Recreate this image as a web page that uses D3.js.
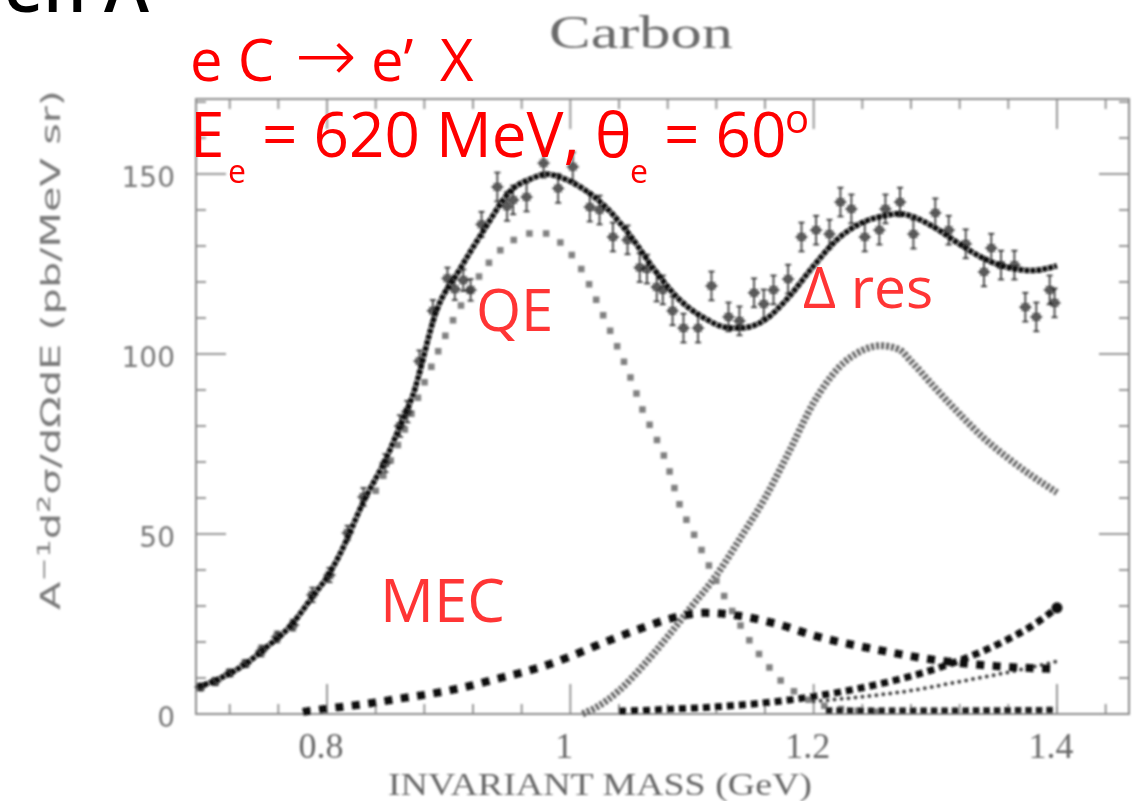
<!DOCTYPE html>
<html>
<head>
<meta charset="utf-8">
<script src="https://cdn.jsdelivr.net/npm/d3@7"></script>
<style>
  html, body { margin: 0; padding: 0; background: #fff; }
  svg { display: block; }
</style>
</head>
<body>
<script>
// ---- Carbon (e,e') inclusive spectrum: data and model components ----
// measured points: [invariant mass (GeV), cross section, error]
const dataPoints = [
  [0.696,7.5,1],[0.708,9,1],[0.720,11.4,1],[0.733,14,1],[0.746,17.5,1.5],[0.759,21.4,1.5],
  [0.772,24.7,1.5],[0.788,33.1,2],[0.802,38.6,2],[0.817,50.3,2],[0.830,60.3,2.5],[0.848,69.7,2.5],
  [0.860,80,3],[0.866,84,3],[0.876,98,3],[0.887,112,3],[0.899,121,3],[0.905,118,3],[0.912,120.5,3],
  [0.918,117.8,3],[0.927,136,3.5],[0.940,146.4,4],[0.948,141,4],[0.953,142.8,4],[0.964,143.6,4],
  [0.978,153,4],[0.990,146,4],[1.002,152,4],[1.016,140.8,4],[1.024,140,4],[1.035,132.5,4],
  [1.047,131.7,4],[1.057,124,4],[1.063,123.6,4],[1.071,118.6,4],[1.076,117.8,4],[1.084,112,4],
  [1.093,107.2,4],[1.105,107.2,4],[1.116,118.9,4],[1.130,110.3,4],[1.139,109.2,4],[1.151,117,4],
  [1.159,113.9,4],[1.167,117.8,4],[1.179,120.8,4],[1.190,132.5,4],[1.202,134.4,4],[1.213,133.3,4],
  [1.222,142.2,4],[1.231,140.3,4],[1.242,132.5,4],[1.254,134.4,4],[1.259,140.3,4],[1.271,142.2,4],
  [1.282,133.3,4],[1.300,139.2,4],[1.311,134.4,4],[1.325,130.6,4],[1.340,122.8,4],[1.346,129.4,4],
  [1.354,124.7,4],[1.365,124.7,4],[1.374,113,4],[1.383,110.3,4],[1.394,117.8,4],[1.398,114.2,4]
];

// total model
const totalW = [0.694,0.71,0.73,0.75,0.77,0.79,0.80,0.81,0.83,0.85,0.86,0.87,0.89,0.91,0.93,0.95,0.97,0.98,0.99,
  1.01,1.03,1.05,1.07,1.09,1.11,1.13,1.14,1.16,1.18,1.20,1.22,1.24,1.26,1.27,1.28,1.30,1.32,1.34,1.36,1.38,1.40];
const totalV = [7.5,9.6,13.2,18.5,24.5,33.5,38,44,59,72,80,88,112,124,135,145,149,150,149.3,
  146,140.5,132.5,123,115,110,107.3,107.2,109.5,116,124.5,132,136.5,138.5,139,138.3,135,130.5,126.5,124,123.2,124.5];

// quasi-elastic
const qeW = [0.84,0.86,0.88,0.90,0.92,0.94,0.96,0.975,0.99,1.00,1.01,1.02,1.03,1.04,1.05,1.06,1.07,1.08,
  1.09,1.10,1.11,1.12,1.13,1.14,1.15,1.16,1.17,1.18,1.19,1.20,1.22,1.24,1.26];
const qeV = [62,76,92,107,119,128,132.8,133.8,131.5,128,123,116,108.5,101,93,84,77,69,
  58,51,44,37,30.5,24.5,19,14.5,10.3,7.3,5,3.3,1.5,0.8,0.5];

// Delta resonance
const deltaW = [1.01,1.02,1.04,1.06,1.08,1.10,1.12,1.14,1.16,1.18,1.20,1.22,1.24,1.255,1.27,1.28,1.30,1.32,1.34,1.36,1.38,1.40];
const deltaV = [0,1.6,6.5,13.5,21.5,30,38.5,49,60,73,86.5,96,101,102.3,101.3,98,90.5,83.3,76.6,71,66,61.5];

// meson exchange currents
const mecW = [0.78,0.80,0.82,0.84,0.86,0.88,0.90,0.92,0.94,0.96,0.98,1.00,1.02,1.04,1.06,1.08,1.10,1.11,1.12,
  1.14,1.17,1.20,1.25,1.30,1.35,1.40];
const mecV = [0.6,1.5,2.3,3.2,4.3,5.3,6.5,8.0,9.8,11.5,13.5,16.0,18.8,21.5,24.0,26.3,27.8,28.1,28.0,
  27.2,25.0,21.8,18.0,15.0,13.3,12.5];

// non-resonant pion background
const bgW = [1.04,1.06,1.08,1.10,1.12,1.14,1.16,1.18,1.20,1.22,1.24,1.26,1.28,1.30,1.32,1.34,1.36,1.38,1.40];
const bgV = [0.8,1.0,1.3,1.6,2.0,2.5,3.1,3.9,4.9,6.0,7.3,8.8,10.5,12.5,14.9,17.6,20.8,24.6,29.5];

// small flat component
const lowW = [1.21,1.25,1.30,1.35,1.40];
const lowV = [1.0,0.9,0.9,1.0,1.1];

// dotted component
const dotW = [1.20,1.24,1.28,1.32,1.36,1.40];
const dotV = [3.5,4.8,6.5,9.0,11.6,14.6];

const xMajor = [0.8, 1.0, 1.2, 1.4];
const xMajorLabels = ["0.8", "1", "1.2", "1.4"];
const xMinor = [0.72,0.76,0.84,0.88,0.92,0.96,1.04,1.08,1.12,1.16,1.24,1.28,1.32,1.36,1.44];
const yMajor = [0, 50, 100, 150];
const yMajorLabels = ["0", "50", "100", "150"];
const yMinor = [10,20,30,40,60,70,80,90,110,120,130,140,160,170];

// ---- layout ----
const W = 1139, H = 801;
const frame = { left: 196, right: 1129, top: 99, bottom: 714 };

const svg = d3.select("body").append("svg").attr("width", W).attr("height", H);

const defs = svg.append("defs");
defs.append("filter").attr("id", "soft")
  .append("feGaussianBlur").attr("stdDeviation", 0.8);

const x = d3.scaleLinear().domain([0.6923, 1.4592]).range([frame.left, frame.right]);
const y = d3.scaleLinear().domain([0, 170.83]).range([frame.bottom, frame.top]);

const plot = svg.append("g").attr("filter", "url(#soft)");

// frame
plot.append("rect")
  .attr("x", frame.left).attr("y", frame.top)
  .attr("width", frame.right - frame.left).attr("height", frame.bottom - frame.top)
  .attr("fill", "none").attr("stroke", "#8c8c8c").attr("stroke-width", 2);

// inward ticks on all four sides
const tickG = plot.append("g").attr("stroke", "#8c8c8c").attr("stroke-width", 1.8);
function vTicks(vals, len) {
  vals.forEach(v => {
    tickG.append("line").attr("x1", x(v)).attr("x2", x(v)).attr("y1", frame.bottom).attr("y2", frame.bottom - len);
    tickG.append("line").attr("x1", x(v)).attr("x2", x(v)).attr("y1", frame.top).attr("y2", frame.top + len);
  });
}
function hTicks(vals, len) {
  vals.forEach(v => {
    tickG.append("line").attr("y1", y(v)).attr("y2", y(v)).attr("x1", frame.left).attr("x2", frame.left + len);
    tickG.append("line").attr("y1", y(v)).attr("y2", y(v)).attr("x1", frame.right).attr("x2", frame.right - len);
  });
}
vTicks(xMajor, 30); vTicks(xMinor, 10);
hTicks(yMajor, 30); hTicks(yMinor, 10);

// tick labels
plot.append("g").selectAll("text").data(xMajor).join("text")
  .attr("x", (d) => x(d) - 6).attr("y", 758)
  .attr("text-anchor", "middle")
  .attr("font-family", "Liberation Serif, serif").attr("font-size", 36)
  .attr("fill", "#666")
  .text((d, i) => xMajorLabels[i]);

plot.append("g").selectAll("text").data(yMajor).join("text")
  .attr("x", 175).attr("y", (d) => y(d) + 13)
  .attr("text-anchor", "end")
  .attr("font-family", "DejaVu Sans, sans-serif").attr("font-size", 28)
  .attr("fill", "#777")
  .text((d, i) => yMajorLabels[i]);

// axis titles
plot.append("text")
  .attr("x", 388).attr("y", 795)
  .attr("font-family", "Liberation Serif, serif").attr("font-size", 31)
  .attr("fill", "#666")
  .attr("textLength", 424).attr("lengthAdjust", "spacingAndGlyphs")
  .text("INVARIANT MASS (GeV)");

const yTitle = plot.append("text")
  .attr("transform", "translate(60,610) rotate(-90)")
  .attr("font-family", "DejaVu Sans, sans-serif").attr("font-size", 26)
  .attr("fill", "#7a7a7a")
  .attr("textLength", 520).attr("lengthAdjust", "spacingAndGlyphs");
yTitle.append("tspan").text("A");
yTitle.append("tspan").attr("dy", -10).attr("font-size", 18).text("−1");
yTitle.append("tspan").attr("dy", 10).text("d");
yTitle.append("tspan").attr("dy", -10).attr("font-size", 18).text("2");
yTitle.append("tspan").attr("dy", 10).text("σ/dΩdE  (pb/MeV sr)");

plot.append("text")
  .attr("x", 549).attr("y", 48)
  .attr("font-family", "Liberation Serif, serif").attr("font-size", 46)
  .attr("fill", "#6a6a6a")
  .attr("textLength", 184).attr("lengthAdjust", "spacingAndGlyphs")
  .text("Carbon");

// ---- curves ----
const toPts = (ws, vs) => ws.map((w, i) => [w, vs[i]]);
const line = d3.line().x(d => x(d[0])).y(d => y(d[1])).curve(d3.curveMonotoneX);

// Delta resonance: dense grey squares
plot.append("path").datum(toPts(deltaW, deltaV))
  .attr("d", line).attr("fill", "none")
  .attr("stroke", "#666").attr("stroke-width", 7)
  .attr("stroke-dasharray", "3,2");

// quasi-elastic: spaced grey dots
plot.append("path").datum(toPts(qeW, qeV))
  .attr("d", line).attr("fill", "none")
  .attr("stroke", "#808080").attr("stroke-width", 6.5)
  .attr("stroke-linecap", "square").attr("stroke-dasharray", "0,17");

// dotted component
plot.append("path").datum(toPts(dotW, dotV))
  .attr("d", line).attr("fill", "none")
  .attr("stroke", "#444").attr("stroke-width", 4)
  .attr("stroke-linecap", "round").attr("stroke-dasharray", "0,7");

// flat low component
plot.append("path").datum(toPts(lowW, lowV))
  .attr("d", line).attr("fill", "none")
  .attr("stroke", "#1a1a1a").attr("stroke-width", 6.5)
  .attr("stroke-dasharray", "6.5,4");

// pion background: black squares
plot.append("path").datum(toPts(bgW, bgV))
  .attr("d", line).attr("fill", "none")
  .attr("stroke", "#111").attr("stroke-width", 7)
  .attr("stroke-dasharray", "7,5");
plot.append("circle")
  .attr("cx", x(bgW[bgW.length - 1])).attr("cy", y(bgV[bgV.length - 1]))
  .attr("r", 5.5).attr("fill", "#111");

// MEC: spaced black squares
plot.append("path").datum(toPts(mecW, mecV))
  .attr("d", line).attr("fill", "none")
  .attr("stroke", "#111").attr("stroke-width", 8)
  .attr("stroke-dasharray", "8,8.5");

// measured points with error bars
const dataG = plot.append("g").attr("stroke", "#333").attr("stroke-width", 1.7).attr("fill", "none");
dataPoints.forEach(([w, v, e]) => {
  const cx = x(w), cy = y(v), y0 = y(v - e), y1 = y(v + e);
  dataG.append("line").attr("x1", cx).attr("x2", cx).attr("y1", y0).attr("y2", y1);
  dataG.append("line").attr("x1", cx - 3).attr("x2", cx + 3).attr("y1", y0).attr("y2", y0);
  dataG.append("line").attr("x1", cx - 3).attr("x2", cx + 3).attr("y1", y1).attr("y2", y1);
  dataG.append("line").attr("x1", cx - 6).attr("x2", cx + 6).attr("y1", cy).attr("y2", cy);
  dataG.append("rect").attr("x", cx - 3).attr("y", cy - 3).attr("width", 6).attr("height", 6)
    .attr("stroke", "#222").attr("stroke-opacity", 0.85);
});

// total: thick black curve
plot.append("path").datum(toPts(totalW, totalV))
  .attr("d", line).attr("fill", "none")
  .attr("stroke", "#0d0d0d").attr("stroke-width", 5.5)
  .attr("stroke-dasharray", "5,1");

// ---- red annotations ----
const red = "#ff0000", red2 = "#ff3535";
const sans = "Open Sans, Noto Sans, sans-serif";

svg.append("text").attr("x", 4).attr("y", 12)
  .attr("font-family", sans).attr("font-weight", 600).attr("font-size", 68).attr("fill", "#000")
  .text("en A");

const l1 = svg.append("text").attr("y", 81).attr("font-family", sans).attr("font-size", 58).attr("fill", red);
l1.append("tspan").attr("x", 190).text("e C");
l1.append("tspan").attr("x", 295).attr("font-family", "DejaVu Sans, sans-serif").attr("font-size", 74)
  .attr("font-weight", 300).text("→");
l1.append("tspan").attr("x", 371).attr("font-family", sans).attr("font-size", 58).text("e’");
l1.append("tspan").attr("x", 440).text("X");

const l2 = svg.append("text").attr("y", 157).attr("font-family", sans).attr("font-size", 62).attr("fill", red);
l2.append("tspan").attr("x", 190).text("E");
l2.append("tspan").attr("x", 228).attr("y", 183).attr("font-size", 32).text("e");
l2.append("tspan").attr("x", 262).attr("y", 157).text("= 620 MeV,");
l2.append("tspan").attr("x", 595).text("θ");
l2.append("tspan").attr("x", 630).attr("y", 183).attr("font-size", 32).text("e");
l2.append("tspan").attr("x", 664).attr("y", 157).text("= 60");
l2.append("tspan").attr("x", 785).attr("y", 133).attr("font-size", 40).text("o");

svg.append("text").attr("x", 476).attr("y", 331)
  .attr("font-family", sans).attr("font-size", 58).attr("fill", red2).text("QE");
svg.append("text").attr("x", 803).attr("y", 308)
  .attr("font-family", sans).attr("font-size", 57).attr("fill", red2).text("Δ res");
svg.append("text").attr("x", 380).attr("y", 622)
  .attr("font-family", sans).attr("font-size", 60).attr("fill", red2).text("MEC");
</script>
</body>
</html>
